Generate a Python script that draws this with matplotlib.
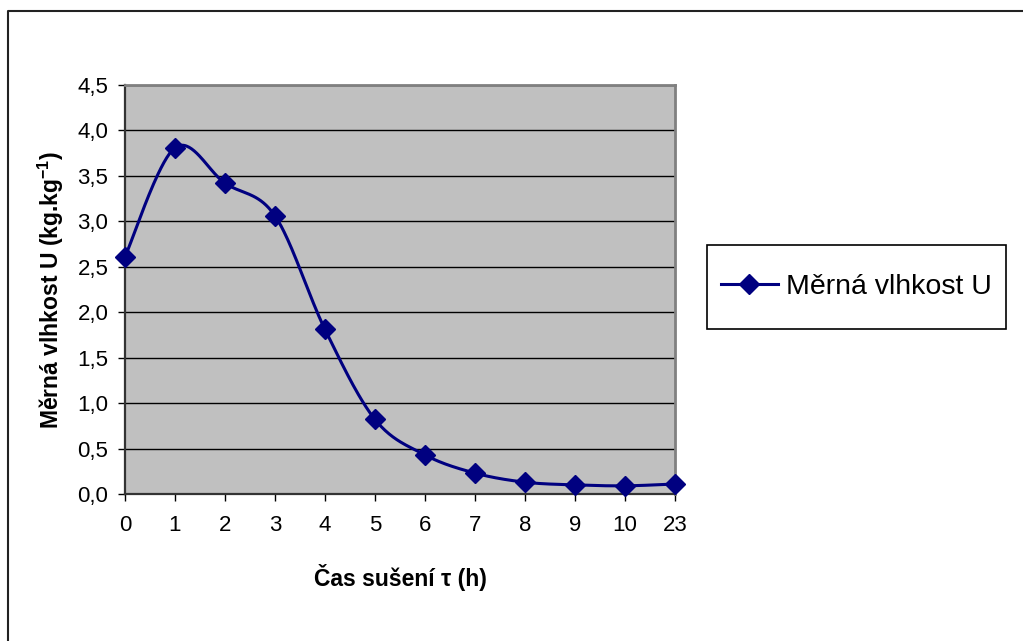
import numpy as np
import matplotlib
matplotlib.use("Agg")
import matplotlib.pyplot as plt
from matplotlib.lines import Line2D
from matplotlib.patches import Rectangle

plt.rcParams['font.family'] = ['Liberation Sans', 'DejaVu Sans']
plt.rcParams['mathtext.default'] = 'regular'

# ---- data ----
categories = ["0", "1", "2", "3", "4", "5", "6", "7", "8", "9", "10", "23"]
moisture = [2.61, 3.81, 3.42, 3.06, 1.81, 0.82, 0.43, 0.23, 0.13, 0.10, 0.09, 0.11]
y_ticks = [0.0, 0.5, 1.0, 1.5, 2.0, 2.5, 3.0, 3.5, 4.0, 4.5]
y_tick_labels = ["0,0", "0,5", "1,0", "1,5", "2,0", "2,5", "3,0", "3,5", "4,0", "4,5"]
series_name = "Měrná vlhkost U"
x_title = "Čas sušení τ (h)"
y_title = "Měrná vlhkost U (kg.kg$^{-1}$)"

W, H = 1023, 641
fig = plt.figure(figsize=(W / 100, H / 100), dpi=100)
fig.patch.set_facecolor('white')

L, R, T, B = 125, 675, 85, 494
ax = fig.add_axes([L / W, 1 - B / H, (R - L) / W, (B - T) / H])
ax.set_facecolor('#C0C0C0')

xpos = np.arange(len(categories), dtype=float)
ypos = np.array(moisture, dtype=float)


def smooth(x, y, n=40):
    # Excel-style smoothed line (Catmull-Rom as cubic Bezier)
    px = np.concatenate([[x[0]], x, [x[-1]]])
    py = np.concatenate([[y[0]], y, [y[-1]]])
    xs, ys = [], []
    t = np.linspace(0, 1, n)
    for i in range(1, len(px) - 2):
        p0 = np.array([px[i], py[i]])
        p3 = np.array([px[i + 1], py[i + 1]])
        c1 = p0 + (np.array([px[i + 1], py[i + 1]]) - np.array([px[i - 1], py[i - 1]])) / 6
        c2 = p3 - (np.array([px[i + 2], py[i + 2]]) - np.array([px[i], py[i]])) / 6
        pts = ((1 - t) ** 3)[:, None] * p0 + (3 * (1 - t) ** 2 * t)[:, None] * c1 \
            + (3 * (1 - t) * t ** 2)[:, None] * c2 + (t ** 3)[:, None] * p3
        xs.extend(pts[:, 0]); ys.extend(pts[:, 1])
    return np.array(xs), np.array(ys)


sx, sy = smooth(xpos, ypos)
ax.plot(sx, sy, color='#000080', lw=2.2, zorder=3, clip_on=False)
ax.plot(xpos, ypos, linestyle='none', marker='D', markersize=10,
        color='#000080', zorder=4, clip_on=False)

ax.set_xlim(0, len(categories) - 1)
ax.set_ylim(0, 4.5)
ax.set_xticks(xpos)
ax.set_xticklabels(categories)
ax.set_yticks(y_ticks)
ax.set_yticklabels(y_tick_labels)
ax.yaxis.grid(True, color='black', lw=1.0)
ax.set_axisbelow(True)

ax.tick_params(axis='both', direction='out', length=5, width=1, color='black',
               labelsize=16, labelcolor='black')
ax.tick_params(axis='y', pad=7)
ax.tick_params(axis='x', pad=10)

for side in ['top', 'right']:
    ax.spines[side].set_color('#808080')
    ax.spines[side].set_linewidth(2)
for side in ['left', 'bottom']:
    ax.spines[side].set_color('#333333')
    ax.spines[side].set_linewidth(1.6)

ax.set_xlabel(x_title, fontsize=16.5, fontweight='bold', labelpad=20)
ax.set_ylabel(y_title, fontsize=16.5, fontweight='bold', labelpad=8)

# legend box
lx0, lx1, ly0, ly1 = 707, 1006, 245, 329
fig.patches.append(Rectangle((lx0 / W, 1 - ly1 / H), (lx1 - lx0) / W, (ly1 - ly0) / H,
                             transform=fig.transFigure, facecolor='white',
                             edgecolor='black', lw=1.2))
handle = Line2D([], [], color='#000080', lw=2.2, marker='D', markersize=10)
fig.legend([handle], [series_name], loc='center',
           bbox_to_anchor=((lx0 + lx1) / 2 / W, 1 - (ly0 + ly1) / 2 / H),
           frameon=False, fontsize=20.5, handlelength=2.0, handletextpad=0.3,
           borderpad=0, borderaxespad=0)

# outer chart border (top and left)
fig.lines.append(Line2D([8 / W, 8 / W, 1.0], [0.0, 1 - 11 / H, 1 - 11 / H],
                        transform=fig.transFigure, color='#222222', lw=1.5))

fig.savefig('out.png', dpi=100, facecolor='white')
